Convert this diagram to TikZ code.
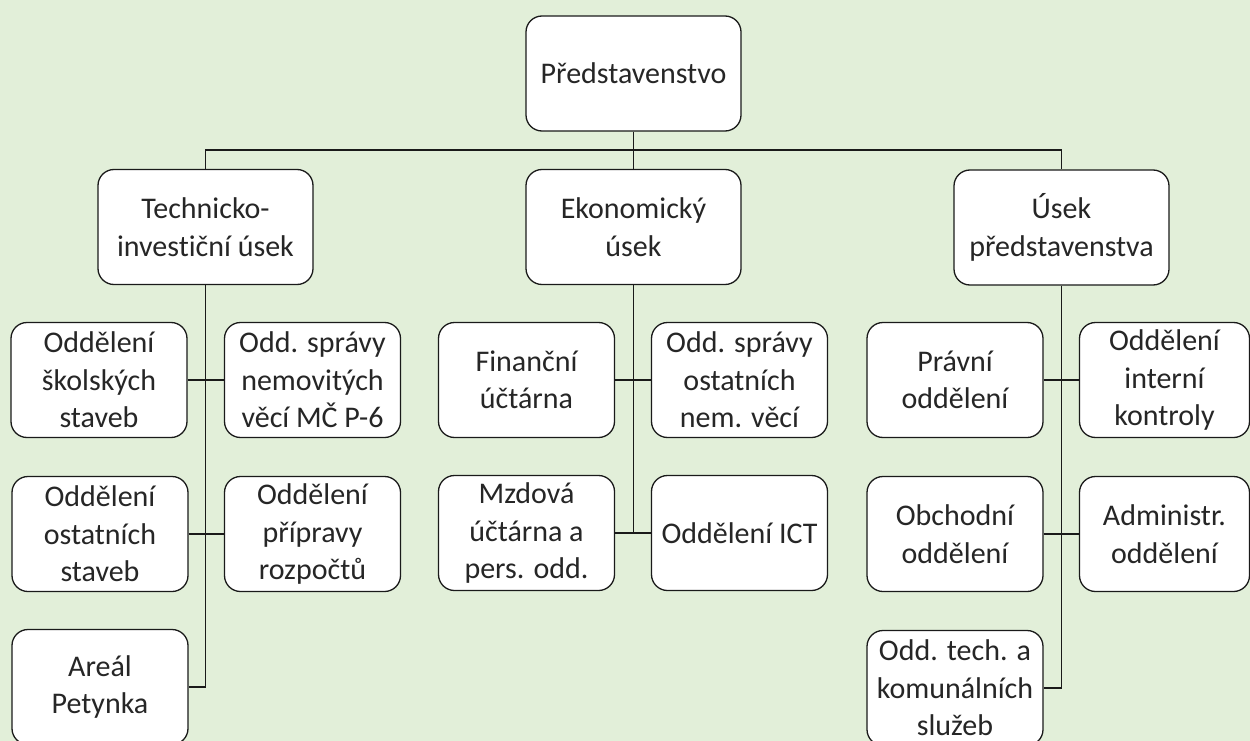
\documentclass[tikz,border=0pt]{standalone}
\usepackage{fontspec}
\setmainfont[Ligatures=NoCommon]{Carlito}
\definecolor{bggreen}{HTML}{E2EFD9}
\definecolor{txt}{HTML}{262626}
\definecolor{edge}{HTML}{1A1A1A}
\begin{document}
\begin{tikzpicture}[x=1pt,y=-1pt,
  box/.style={draw=edge, fill=white, line width=1.3pt, rounded corners=16pt,
    inner sep=0pt, align=center, text=txt,
    font=\fontsize{30}{37.5}\selectfont},
  top/.style={box, minimum width=215pt, minimum height=115pt},
  sub/.style={box, minimum width=176pt, minimum height=115pt},
  subr/.style={box, minimum width=170pt, minimum height=115pt},
  link/.style={draw=edge, line width=1.3pt}]
\useasboundingbox (0,0) rectangle (1250,741);
\clip (0,0) rectangle (1250,741);
\fill[bggreen] (0,0) rectangle (1250,741);

\node[top] (P) at (633.5,73.5) {Představenstvo};
\node[top] (T) at (205.5,227) {Technicko-\\investiční úsek};
\node[top] (E) at (633.5,227) {Ekonomický\\úsek};
\node[top] (U) at (1061.5,227.5) {Úsek\\představenstva};

\node[sub] (L1a) at (99,380) {Oddělení\\školských\\staveb};
\node[sub] (L1b) at (312.5,380) {Odd. správy\\nemovitých\\věcí MČ P-6};
\node[sub] (L2a) at (100,534) {Oddělení\\ostatních\\staveb};
\node[sub] (L2b) at (312.5,534) {Oddělení\\přípravy\\rozpočtů};
\node[sub] (L3a) at (100,687) {Areál\\Petynka};

\node[sub] (M1a) at (526.5,380) {Finanční\\účtárna};
\node[sub] (M1b) at (739.5,380) {Odd. správy\\ostatních\\nem. věcí};
\node[sub] (M2a) at (526.5,533) {Mzdová\\účtárna a\\pers. odd.};
\node[sub] (M2b) at (739.5,533) {Oddělení ICT};

\node[sub] (R1a) at (955,380) {Právní\\oddělení};
\node[subr] (R1b) at (1164.5,380) {Oddělení\\interní\\kontroly};
\node[sub] (R2a) at (955,534) {Obchodní\\oddělení};
\node[subr] (R2b) at (1164.5,534) {Administr.\\oddělení};
\node[sub] (R3a) at (955,688) {Odd. tech. a\\komunálních\\služeb};

\coordinate (bus) at (633.5,150);
\draw[link] (P.south) -- (E.north);
\draw[link] (T.north) |- (bus) -| (U.north);

\draw[link] (T.south) |- (L3a.east);
\draw[link] (L1a.east) -- (L1b.west);
\draw[link] (L2a.east) -- (L2b.west);

\draw[link] (E.south) |- (M2a.east);
\draw[link] (M1a.east) -- (M1b.west);
\draw[link] (M2a.east) -- (M2b.west);

\draw[link] (U.south) |- (R3a.east);
\draw[link] (R1a.east) -- (R1b.west);
\draw[link] (R2a.east) -- (R2b.west);
\end{tikzpicture}
\end{document}
